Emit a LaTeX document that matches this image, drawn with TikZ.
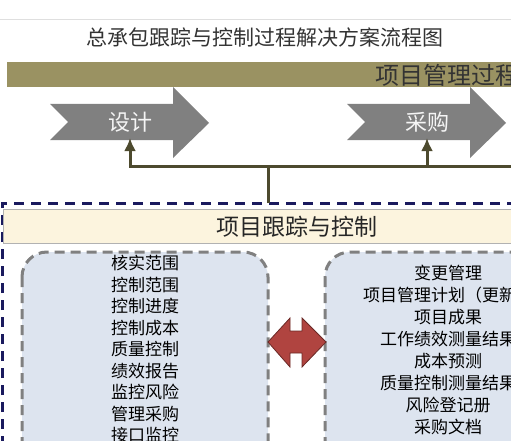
\documentclass[tikz,border=0pt]{standalone}
\usepackage{fontspec}
\newfontfamily\cjk{Noto Sans CJK SC}
\usetikzlibrary{positioning,arrows.meta}
\definecolor{olivebar}{RGB}{154,146,98}
\definecolor{linkcol}{RGB}{77,74,46}
\definecolor{navy}{RGB}{26,26,94}
\definecolor{boxfill}{RGB}{221,228,239}
\definecolor{headfill}{RGB}{252,244,222}
\definecolor{twinred}{RGB}{176,68,64}

\begin{document}
\begin{tikzpicture}[
  x=1pt, y=-1pt,
  phase/.style={fill={rgb:black,1;white,1}},
  link/.style={draw=linkcol, line width=3pt},
  uplink/.style={link, -{Latex[length=13pt,width=12pt]}},
  listbox/.style={draw=gray, fill=boxfill, line width=3pt, dash pattern=on 10pt off 6pt, rounded corners=25pt},
  listtext/.style={font=\cjk\fontsize{17}{#1}\selectfont, align=center, inner sep=0pt, anchor=north}
]
\useasboundingbox (0,0) rectangle (511,441);
\clip (0,0) rectangle (511,441);

\draw[gray!25, line width=0.8pt] (0,19) -- (511,19);
\node[font=\cjk\fontsize{21}{21}\selectfont, text=black!80] (title) at (265,37) {总承包跟踪与控制过程解决方案流程图};

% project management process bar
\fill[olivebar] (7,62) rectangle (530,87);
\node[font=\cjk\fontsize{24}{24}\selectfont, text=black!80] (pmbar) at (447,75) {项目管理过程};

\foreach \x/\t/\n in {0/设计/design, 297/采购/proc} {
  \fill[phase] (50+\x,104) -- (173+\x,104) -- (173+\x,87) -- (209+\x,123) -- (173+\x,158)
    -- (173+\x,140) -- (50+\x,140) -- (68+\x,122) -- cycle;
  \node[font=\cjk\fontsize{22}{22}\selectfont, text=white!92!gray] (\n) at (130+\x,122) {\t};
  \coordinate (\n bot) at (130+\x,138);
}

% tracking and control
\draw[navy, line width=3pt, dash pattern=on 10pt off 7pt] (2,480) -- (2,203) -- (530,203);
\coordinate (tracktop) at (268,203);
\coordinate (hub) at (268,166);
\coordinate (linkend) at (530,166);

\draw[link] (tracktop) -- (hub);
\draw[uplink] (hub) -| (designbot);
\draw[uplink] (hub) -| (procbot);
\draw[link] (procbot |- hub) -- (linkend);

\draw[draw=black!30, fill=headfill, line width=1pt] (3,209) rectangle (530,243);
\node[font=\cjk\fontsize{23}{23}\selectfont, text=black!85] (track) at (297,227) {项目跟踪与控制};

\draw[listbox] (22,252) rectangle (268,480);
\draw[listbox] (325,252) rectangle (575,480);

\node[listtext=21.5] (tools) at (145,255) {核实范围\\控制范围\\控制进度\\控制成本\\质量控制\\绩效报告\\监控风险\\管理采购\\接口监控};
\node[listtext=22] (outputs) at (448,265) {变更管理\\项目管理计划（更新）\\项目成果\\工作绩效测量结果\\成本预测\\质量控制测量结果\\风险登记册\\采购文档};

\fill[twinred, draw=twinred!60!black, line width=0.8pt] (268,342) -- (290,318) -- (290,331) -- (302,331)
  -- (302,318) -- (326,342) -- (302,367) -- (302,353) -- (290,353) -- (290,367) -- cycle;

\end{tikzpicture}
\end{document}
